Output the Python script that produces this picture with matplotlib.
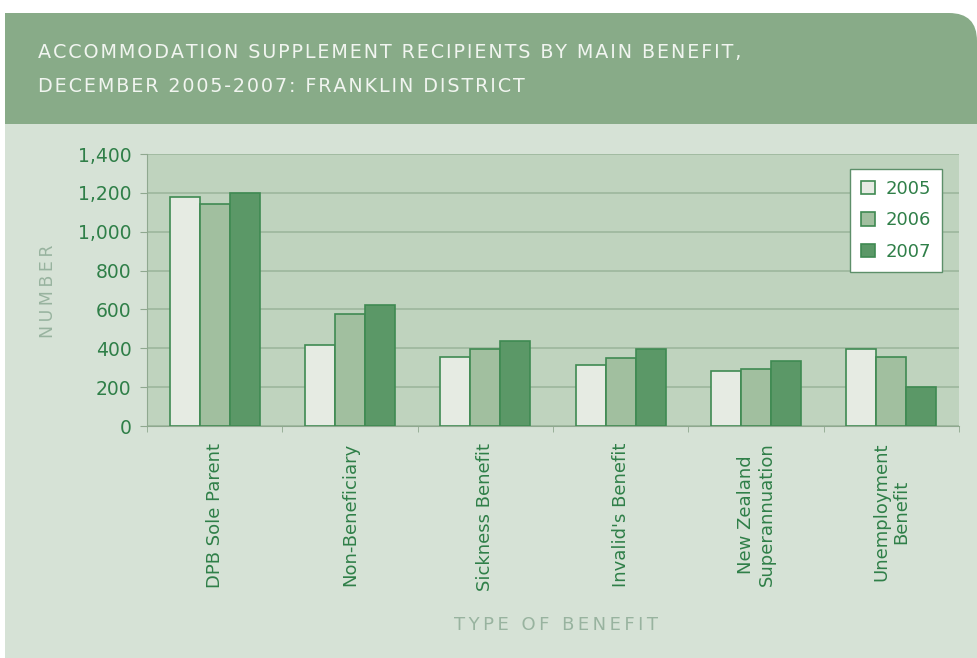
import numpy as np
import matplotlib
matplotlib.use('Agg')
from matplotlib import pyplot as plt
from matplotlib.patches import Rectangle, FancyBboxPatch

categories = ['DPB Sole Parent', 'Non-Beneficiary', 'Sickness Benefit',
              "Invalid's Benefit", 'New Zealand\nSuperannuation',
              'Unemployment\nBenefit']
years = ['2005', '2006', '2007']
values_2005 = [1180, 415, 357, 312, 285, 395]
values_2006 = [1143, 578, 396, 348, 292, 357]
values_2007 = [1198, 621, 437, 398, 335, 202]
yticks = [0, 200, 400, 600, 800, 1000, 1200, 1400]

bar_colors = ['#e6ebe3', '#a1bf9f', '#5b9867']
edge_color = '#3f8a52'
text_green = '#2f7f48'
axis_title_color = '#98b39f'


def spaced(s, n=1):
    # fake letter spacing with hair spaces
    return ('\u200a' * n).join(s)


fig = plt.figure(figsize=(9.77, 6.58), dpi=100, facecolor='white')

# background panels drawn in pixel units
bg = fig.add_axes([0, 0, 1, 1], zorder=0)
bg.set_xlim(0, 977)
bg.set_ylim(658, 0)
bg.axis('off')
bg.add_patch(FancyBboxPatch((877, 13), 100, 200, boxstyle='round,pad=0,rounding_size=28',
                            facecolor='#88ab88', edgecolor='none'))
bg.add_patch(Rectangle((5, 13), 900, 111, facecolor='#88ab88', edgecolor='none'))
bg.add_patch(Rectangle((5, 124), 980, 540, facecolor='#d6e2d6', edgecolor='none'))
bg.text(38, 52, spaced('ACCOMMODATION SUPPLEMENT RECIPIENTS BY MAIN BENEFIT,'),
        color='#f1f5f0', fontsize=13.8, va='center', ha='left')
bg.text(38, 86, spaced('DECEMBER 2005-2007: FRANKLIN DISTRICT'),
        color='#f1f5f0', fontsize=13.8, va='center', ha='left')
bg.text(48, 291, spaced('NUMBER', 2), color=axis_title_color, fontsize=12.5, rotation=90,
        va='center', ha='center')
bg.text(556, 625, spaced('TYPE OF BENEFIT', 2), color=axis_title_color, fontsize=13,
        va='center', ha='center')

ax = fig.add_axes([147 / 977, 1 - 426 / 658, 812 / 977, 272 / 658], zorder=1)
ax.set_facecolor('#bfd3be')

x = np.arange(len(categories))
w = 0.222
for i, (vals, yr) in enumerate(zip([values_2005, values_2006, values_2007], years)):
    ax.bar(x + (i - 1) * w, vals, w, color=bar_colors[i], edgecolor=edge_color,
           linewidth=1.2, label=yr, zorder=3)

ax.set_xlim(-0.5, len(categories) - 0.5)
ax.set_ylim(0, 1400)
ax.set_yticks(yticks)
ax.set_yticklabels([f'{v:,}' for v in yticks])
ax.yaxis.grid(True, color='#9db79d', linewidth=1.2, zorder=1)
ax.set_axisbelow(True)

ax.set_xticks(x)
ax.set_xticklabels(categories, rotation=90, va='top', ha='center', multialignment='center')
ax.set_xticks(np.arange(len(categories) + 1) - 0.5, minor=True)
ax.tick_params(axis='x', which='major', length=0, pad=12, labelsize=13, labelcolor=text_green)
ax.tick_params(axis='x', which='minor', length=4, color='#8fa88f', direction='out')
ax.tick_params(axis='y', length=5, color='#8fa88f', labelsize=13.5, labelcolor=text_green, pad=6)

for side in ['top', 'right']:
    ax.spines[side].set_visible(False)
ax.spines['left'].set_color('#8fa88f')
ax.spines['bottom'].set_color('#8fa88f')

leg = ax.legend(loc='upper right', bbox_to_anchor=(0.979, 0.945), borderaxespad=0,
                fancybox=False, framealpha=1, edgecolor='#5d8f6a', fontsize=13,
                handlelength=0.75, handleheight=0.75, labelspacing=0.75,
                borderpad=0.6, handletextpad=0.6)
leg.get_frame().set_linewidth(1.0)
for t in leg.get_texts():
    t.set_color(text_green)

fig.savefig('out.png', dpi=100, facecolor=fig.get_facecolor())
print("Image saved.")
